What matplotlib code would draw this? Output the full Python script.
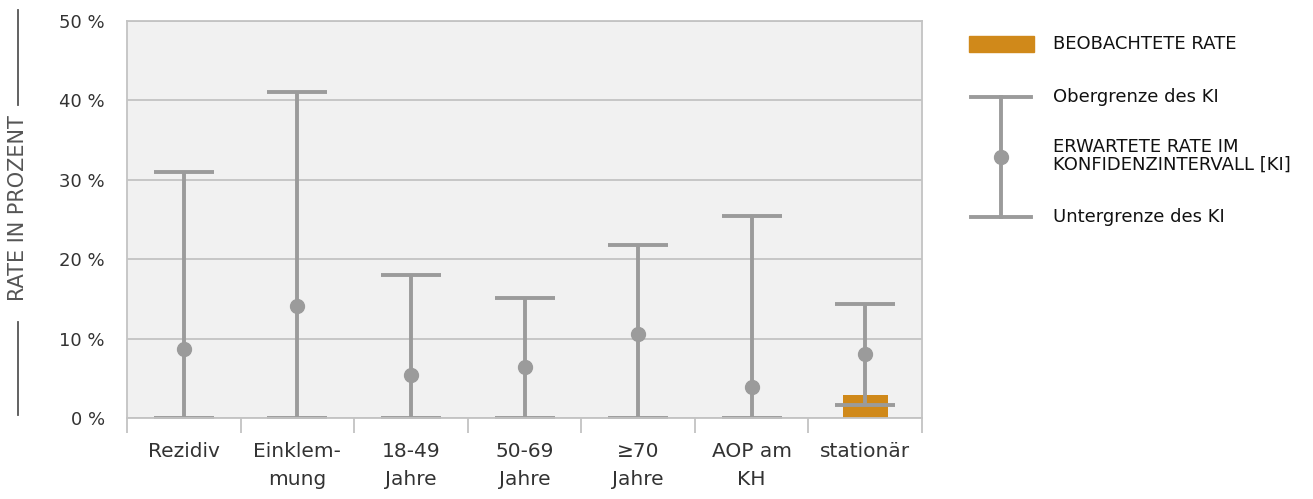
import numpy as np
import matplotlib.pyplot as plt
from matplotlib.patches import Rectangle
from matplotlib.lines import Line2D

categories = ["Rezidiv", "Einklem-\nmung", "18-49\nJahre", "50-69\nJahre",
              "≥70\nJahre", "AOP am\nKH", "stationär"]
expected = [8.7, 14.1, 5.4, 6.4, 10.6, 3.9, 8.1]
ci_lower = [0.0, 0.0, 0.0, 0.0, 0.0, 0.0, 1.6]
ci_upper = [31.0, 41.1, 18.0, 15.1, 21.8, 25.4, 14.4]
observed = [np.nan, np.nan, np.nan, np.nan, np.nan, np.nan, 2.9]
yticks = [0, 10, 20, 30, 40, 50]

GRAY = "#9b9b9b"
ORANGE = "#d0891a"
LINE = "#c3c3c3"
TXT = "#333333"

plt.rcParams['font.family'] = ['DejaVu Sans']

fig = plt.figure(figsize=(13.13, 4.99), dpi=100)
ax = fig.add_axes([127 / 1313, 81 / 499, 795 / 1313, 397 / 499])
ax.set_facecolor("#f1f1f1")

x = np.arange(len(categories))
exp = np.array(expected)
lo = exp - np.array(ci_lower)
hi = np.array(ci_upper) - exp

ax.bar(x, observed, width=0.4, color=ORANGE, zorder=3)
ax.errorbar(x, exp, yerr=[lo, hi], fmt='o', color=GRAY, ecolor=GRAY,
            markersize=10, elinewidth=2.8, capsize=21.6, capthick=2.8,
            zorder=4)

ax.set_xlim(-0.5, len(categories) - 0.5)
ax.set_ylim(0, 50)
ax.set_yticks(yticks)
ax.set_yticklabels([f"{v} %" for v in yticks], fontsize=13, color=TXT)
ax.yaxis.grid(True, color=LINE, linewidth=1.3, zorder=1)
ax.set_axisbelow(True)
ax.tick_params(axis='y', length=0, pad=16)

ax.set_xticks(x)
ax.set_xticklabels(categories, fontsize=14.5, color=TXT, linespacing=1.6,
                   va='top')
ax.set_xticks(np.arange(-0.5, len(categories)), minor=True)
ax.tick_params(axis='x', which='major', length=0, pad=17)
ax.tick_params(axis='x', which='minor', length=11, width=1.3, color=LINE)

for s in ax.spines.values():
    s.set_color(LINE)
    s.set_linewidth(1.3)
    s.set_zorder(5)

# y label with lines above and below
fig.text(18 / 1313, 1 - 208 / 499, "RATE IN PROZENT", rotation=90,
         ha='center', va='center', fontsize=15, color="#555555")
fig.add_artist(Line2D([18 / 1313] * 2, [1 - 10 / 499, 1 - 105 / 499],
                      color="#555555", lw=1.3))
fig.add_artist(Line2D([18 / 1313] * 2, [1 - 322 / 499, 1 - 415 / 499],
                      color="#555555", lw=1.3))

# legend drawn in pixel coordinates
lg = fig.add_axes([0, 0, 1, 1], zorder=-1)
lg.set_xlim(0, 1313)
lg.set_ylim(499, 0)
lg.axis('off')
lg.add_patch(Rectangle((969, 36), 65, 16, color=ORANGE))
lg.plot([1001, 1001], [97, 217], color=GRAY, lw=2.8)
lg.plot([971, 1031], [97, 97], color=GRAY, lw=2.8)
lg.plot([971, 1031], [217, 217], color=GRAY, lw=2.8)
lg.plot([1001], [157], 'o', color=GRAY, markersize=10)
lfs = 13
lg.text(1053, 44, "BEOBACHTETE RATE", va='center', fontsize=lfs, color="#111111")
lg.text(1053, 97, "Obergrenze des KI", va='center', fontsize=lfs, color="#111111")
lg.text(1053, 156, "ERWARTETE RATE IM\nKONFIDENZINTERVALL [KI]", va='center',
        fontsize=lfs, color="#111111", linespacing=0.95)
lg.text(1053, 217, "Untergrenze des KI", va='center', fontsize=lfs, color="#111111")

plt.savefig("out.png", dpi=100)
plt.close(fig)
